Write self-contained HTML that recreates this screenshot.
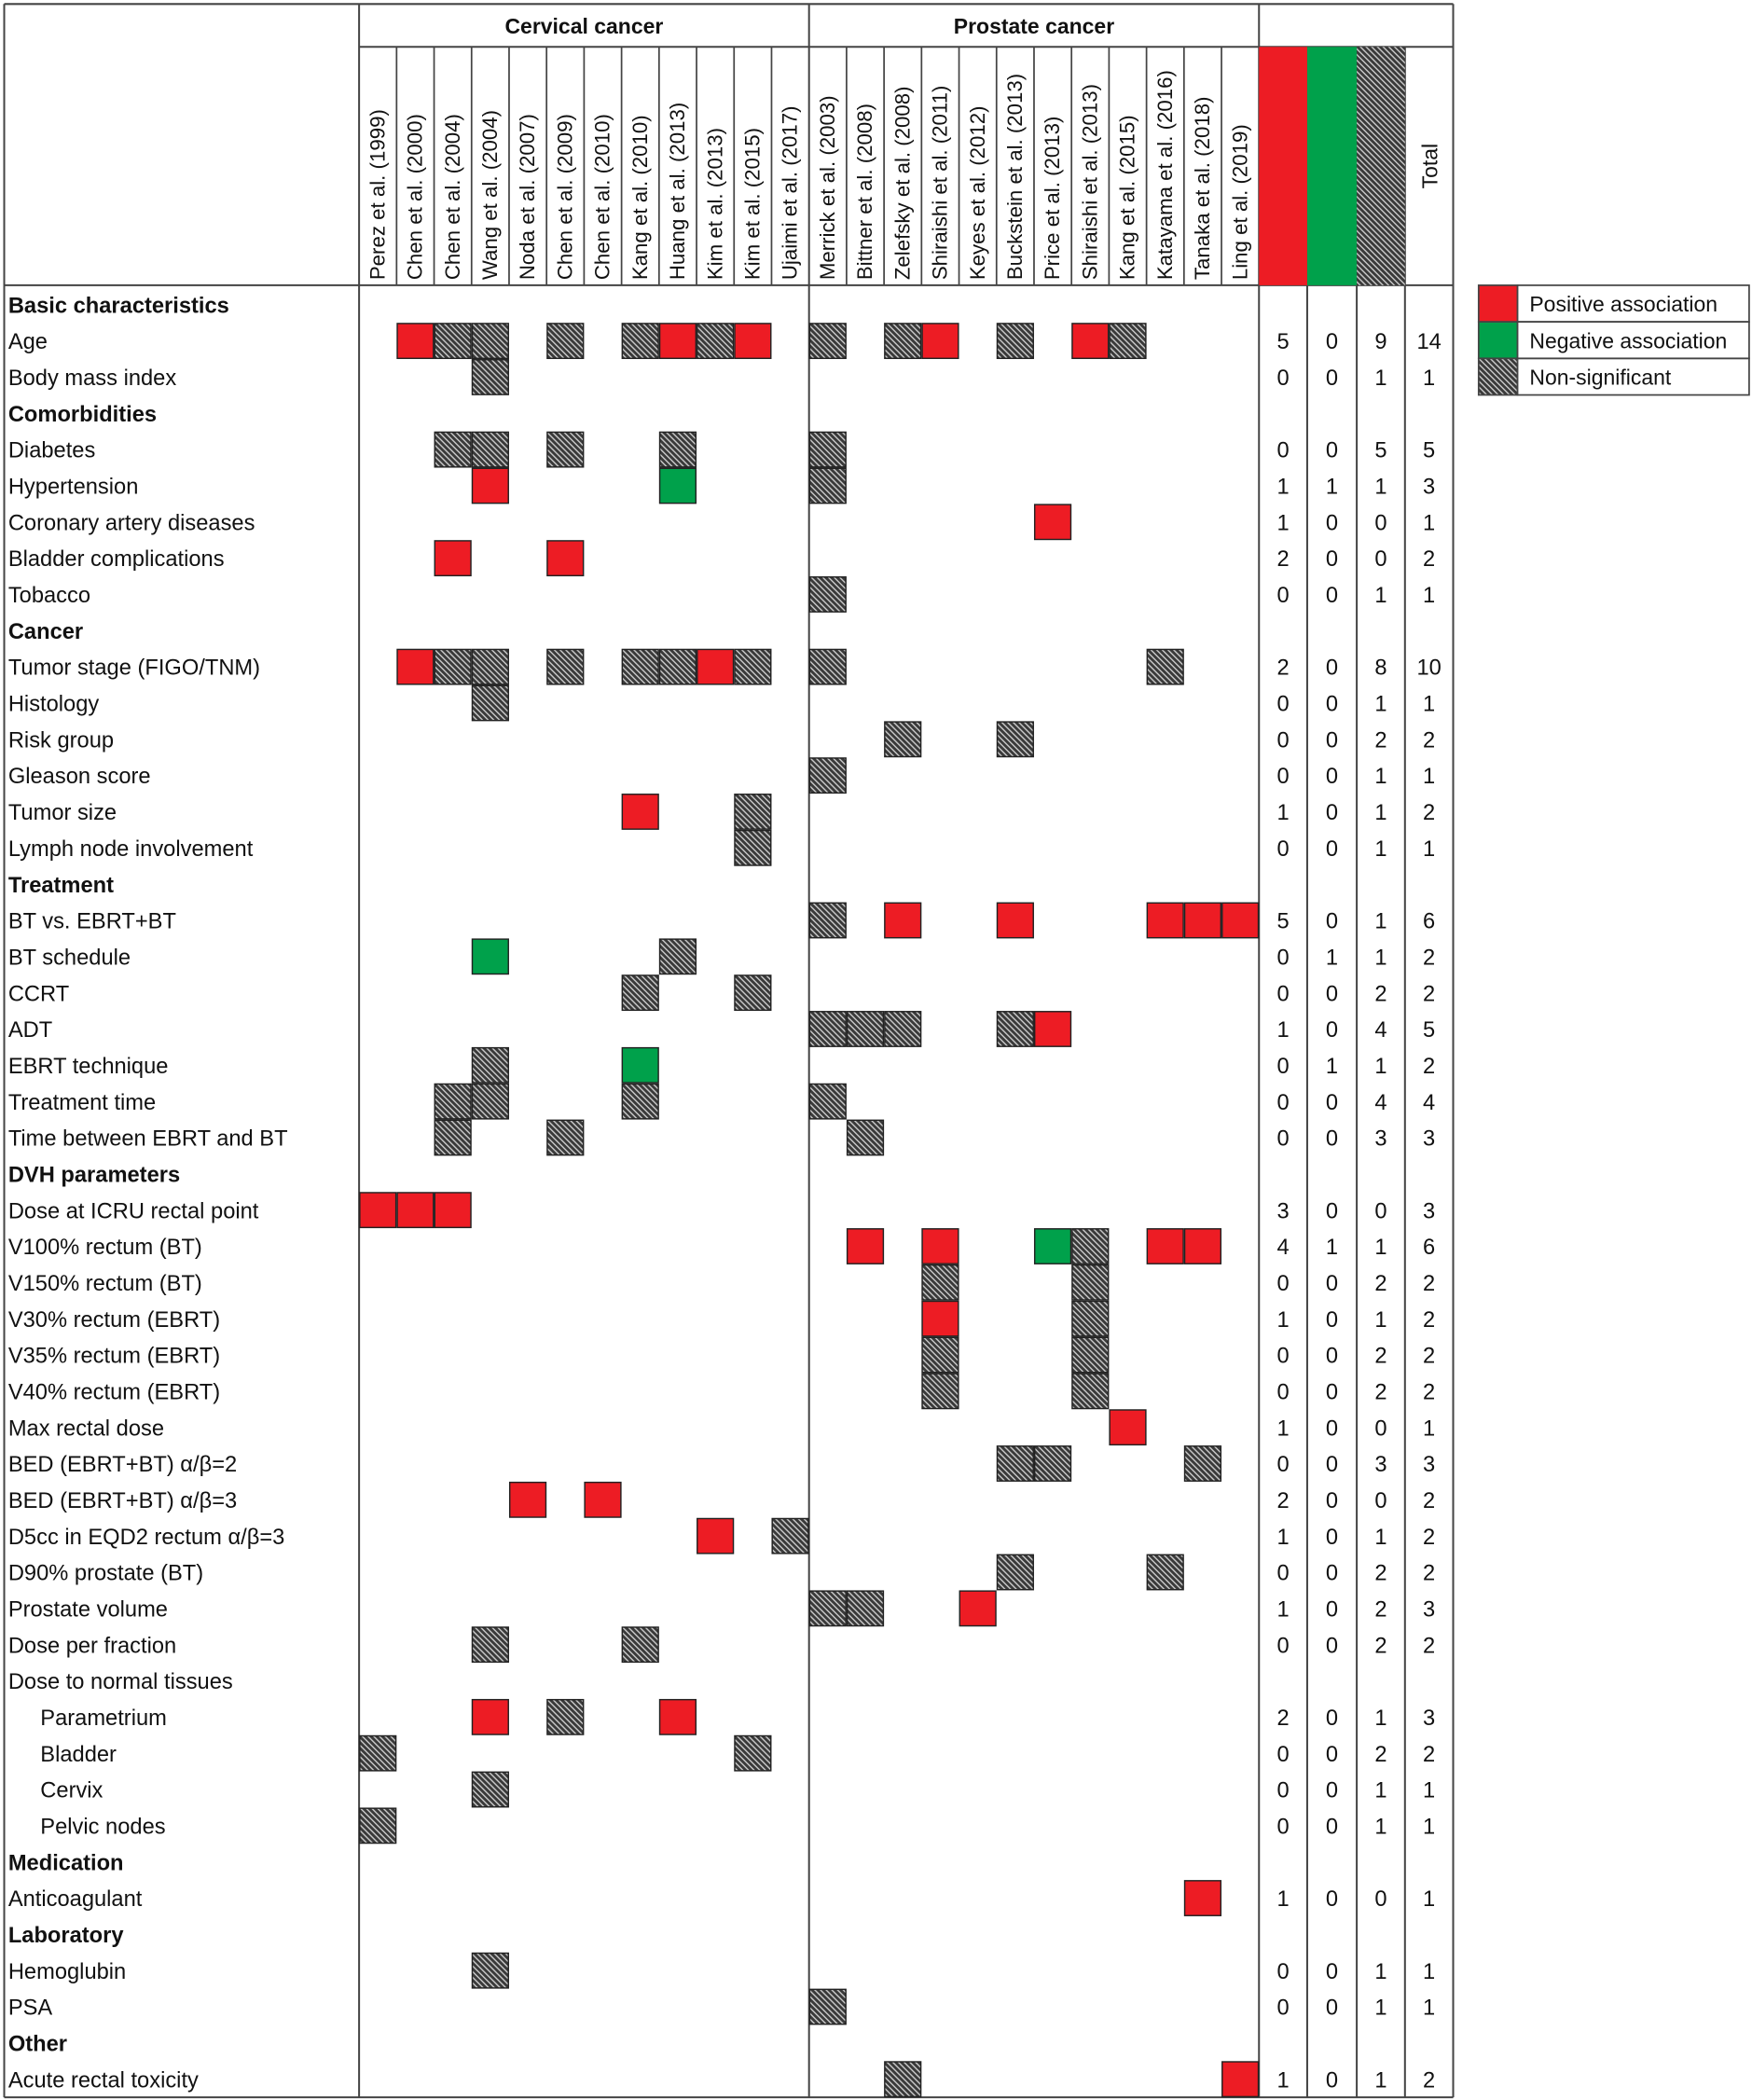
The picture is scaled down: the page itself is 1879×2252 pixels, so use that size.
<!DOCTYPE html>
<html><head><meta charset="utf-8"><style>
html,body{margin:0;padding:0;background:#fff;}
svg{display:block;font-family:"Liberation Sans",sans-serif;}
</style></head><body>
<svg id="chart" width="1879" height="2252" viewBox="0 0 1308 1568" xmlns="http://www.w3.org/2000/svg">
<defs>
<pattern id="hatch" patternUnits="userSpaceOnUse" width="3" height="3" patternTransform="rotate(-45)">
<rect width="3" height="3" fill="#3a3a3a"/><rect width="1" height="3" fill="#c8c8c8"/>
</pattern>
</defs>
<g id="grid"></g>
<g id="cells"></g>
<g id="labels"></g>
</svg>
<script>
const studies = ["Perez et al. (1999)","Chen et al. (2000)","Chen et al. (2004)","Wang et al. (2004)","Noda et al. (2007)","Chen et al. (2009)","Chen et al. (2010)","Kang et al. (2010)","Huang et al. (2013)","Kim et al. (2013)","Kim et al. (2015)","Ujaimi et al. (2017)","Merrick et al. (2003)","Bittner et al. (2008)","Zelefsky et al. (2008)","Shiraishi et al. (2011)","Keyes et al. (2012)","Buckstein et al. (2013)","Price et al. (2013)","Shiraishi et al. (2013)","Kang et al. (2015)","Katayama et al. (2016)","Tanaka et al. (2018)","Ling et al. (2019)"];
const groups = ["Cervical cancer","Prostate cancer"];
const rowLabels = ["Basic characteristics","Age","Body mass index","Comorbidities","Diabetes","Hypertension","Coronary artery diseases","Bladder complications","Tobacco","Cancer","Tumor stage (FIGO/TNM)","Histology","Risk group","Gleason score","Tumor size","Lymph node involvement","Treatment","BT vs. EBRT+BT","BT schedule","CCRT","ADT","EBRT technique","Treatment time","Time between EBRT and BT","DVH parameters","Dose at ICRU rectal point","V100% rectum (BT)","V150% rectum (BT)","V30% rectum (EBRT)","V35% rectum (EBRT)","V40% rectum (EBRT)","Max rectal dose","BED (EBRT+BT) α/β=2","BED (EBRT+BT) α/β=3","D5cc in EQD2 rectum α/β=3","D90% prostate (BT)","Prostate volume","Dose per fraction","Dose to normal tissues","Parametrium","Bladder","Cervix","Pelvic nodes","Medication","Anticoagulant","Laboratory","Hemoglubin","PSA","Other","Acute rectal toxicity"];
const boldRows = [0,3,9,16,24,43,45,48];
const indentRows = [39,40,41,42];
// r = positive, g = negative, h = non-significant, . = none
const cellCodes = [
"........................",
".rhh.h.hrhr.h.hr.h.rh...",
"...h....................",
"........................",
"..hh.h..h...h...........",
"...r....g...h...........",
"..................r.....",
"..r..r..................",
"............h...........",
"........................",
".rhh.h.hhrh.h........h..",
"...h....................",
"..............h..h......",
"............h...........",
".......r..h.............",
"..........h.............",
"........................",
"............h.r..r...rrr",
"...g....h...............",
".......h..h.............",
"............hhh..hr.....",
"...h...g................",
"..hh...h....h...........",
"..h..h.......h..........",
"........................",
"rrr.....................",
".............r.r..gh.rr.",
"...............h...h....",
"...............r...h....",
"...............h...h....",
"...............h...h....",
"....................r...",
".................hh...h.",
"....r.r.................",
".........r.h............",
".................h...h..",
"............hh..r.......",
"...h...h................",
"........................",
"...r.h..r...............",
"h.........h.............",
"...h....................",
"h.......................",
"........................",
"......................r.",
"........................",
"...h....................",
"............h...........",
"........................",
"..............h........r"
];
const legendLabels = ["Positive association","Negative association","Non-significant"];

const NS="http://www.w3.org/2000/svg";
const X0=268, CW=28, Y0=214, RH=27.04, YTOP=3, YG=35;
const SUMX=[940,976,1013,1049,1085];
const colX = i => X0 + i*CW;
const rowY = r => Y0 + r*RH;
const fills = {r:"#ed1c24", g:"#00a14b", h:"url(#hatch)"};
function el(tag, attrs, parent){const e=document.createElementNS(NS,tag);for(const k in attrs)e.setAttribute(k,attrs[k]);parent.appendChild(e);return e;}
const grid=document.getElementById('grid'), cellsG=document.getElementById('cells'), labelsG=document.getElementById('labels');
const YB = rowY(rowLabels.length);
const ln=(x1,y1,x2,y2,w)=>el('line',{x1,y1,x2,y2,stroke:'#444','stroke-width':w||1.4},grid);

const sumFills=[fills.r,fills.g,fills.h];
for(let k=0;k<3;k++){
  const b=el('rect',{x:SUMX[k],y:YG,width:SUMX[k+1]-SUMX[k],height:Y0-1-YG,fill:sumFills[k]},cellsG);
  
  
}
ln(3,YTOP,1085,YTOP); ln(3,YTOP,3,YB); ln(3,YB,1085,YB); ln(1085,YTOP,1085,YB);
ln(X0,YG,1085,YG); ln(3,Y0-1,1085,Y0-1);
ln(X0,YTOP,X0,YB); ln(colX(12),YTOP,colX(12),YB); ln(940,YTOP,940,YB);
for(let i=1;i<studies.length;i++){ if(i!==12) ln(colX(i),YG,colX(i),Y0-1,1.2); }
for(let k=1;k<4;k++) ln(SUMX[k],YG,SUMX[k],YB);

groups.forEach((g,gi)=>{
  const t=el('text',{x:colX(gi*12)+168,y:25,'text-anchor':'middle','font-size':16,'font-weight':'bold',fill:'#111'},labelsG);
  t.textContent=g;
  
  
});
studies.forEach((s,i)=>{
  const cx=colX(i)+CW/2+5;
  const t=el('text',{x:cx,y:209,'font-size':15.5,fill:'#111',transform:`rotate(-90 ${cx} 209)`},labelsG);
  t.textContent=s;
  
  
});
const tt=el('text',{x:1073,y:124,'text-anchor':'middle','font-size':16,fill:'#111',transform:'rotate(-90 1073 124)'},labelsG);
tt.textContent="Total";



rowLabels.forEach((lab,r)=>{
  const bold=boldRows.includes(r), ind=indentRows.includes(r);
  const t=el('text',{x:ind?30:6,y:rowY(r)+RH/2+6,'font-size':16.5,'font-weight':bold?'bold':'normal',fill:'#111'},labelsG);
  t.textContent=lab;
  
  
  const code=cellCodes[r]; let cnt={r:0,g:0,h:0};
  for(let i=0;i<code.length;i++){
    const c=code[i]; if(c==='.') continue; cnt[c]++;
    const rc=el('rect',{x:colX(i)+0.5,y:rowY(r)+0.5,width:CW-1,height:RH-1,fill:fills[c],stroke:'#222','stroke-width':1},cellsG);
    
    
  }
  if(!bold && r!==38){
    const vals=[cnt.r,cnt.g,cnt.h,cnt.r+cnt.g+cnt.h];
    vals.forEach((v,k)=>{
      const n=el('text',{x:(SUMX[k]+SUMX[k+1])/2,y:rowY(r)+RH/2+6,'text-anchor':'middle','font-size':16.5,fill:'#111'},labelsG);
      n.textContent=v;
      
      
    });
  }
});

const LX=1104, LY=213, LH=27.3;
legendLabels.forEach((l,k)=>{
  const y=LY+k*LH;
  const sw=el('rect',{x:LX,y,width:29,height:LH,fill:sumFills[k],stroke:'#444','stroke-width':1.2},cellsG);
  
  
  el('rect',{x:LX+29,y,width:1306-LX-29,height:LH,fill:'none',stroke:'#444','stroke-width':1.2},grid);
  const t=el('text',{x:LX+38,y:y+LH/2+6,'font-size':16,fill:'#111'},labelsG);
  t.textContent=l;
  
  
});
</script>
</body></html>
